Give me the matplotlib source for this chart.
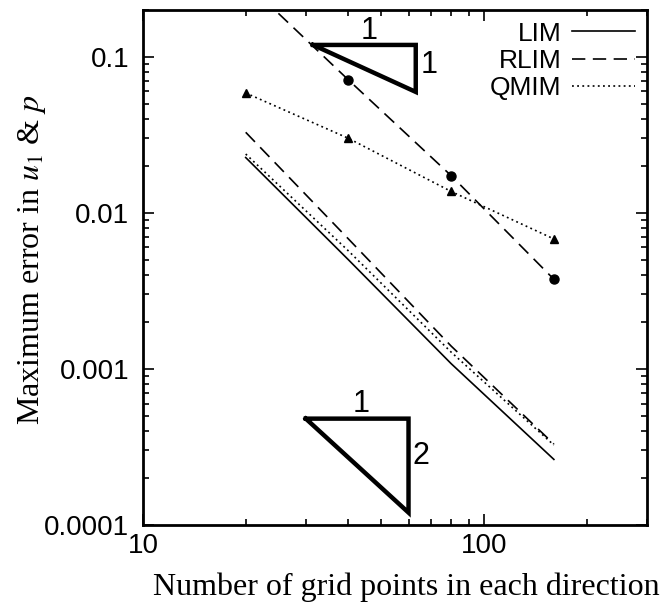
import matplotlib
matplotlib.use("Agg")
import matplotlib.pyplot as plt
from matplotlib.ticker import FixedLocator, FixedFormatter, LogLocator, NullFormatter

plt.rcParams["font.family"] = ["Liberation Sans", "DejaVu Sans"]
plt.rcParams["mathtext.fontset"] = "stix"

# grid sizes
n = [20, 40, 80, 160]

# smooth-solution errors (lower group)
lim_err = [0.0226, 0.0050, 0.00108, 0.000263]
rlim_err = [0.0328, 0.0068, 0.00140, 0.000330]
qmim_err = [0.0238, 0.0057, 0.00128, 0.000325]

# marked series (upper group)
rlim_mark = [0.30, 0.071, 0.0173, 0.00375]
qmim_mark = [0.0586, 0.030, 0.0137, 0.0068]

# slope triangles: x span and y levels
tri1_x = [31.5, 63]
tri1_y = [0.119, 0.0595]
tri2_x = [30, 60]
tri2_y = [4.8e-4, 1.2e-4]

fig = plt.figure(figsize=(6.65, 6.09), dpi=100)
ax = fig.add_axes([0.215, 0.138, 0.758, 0.846])
ax.set_xscale("log")
ax.set_yscale("log")
ax.set_xlim(10, 300)
ax.set_ylim(1e-4, 0.2)

k = dict(color="black", lw=1.2)
ax.plot(n, lim_err, "-", label="LIM", **k)
ax.plot(n, rlim_err, "--", dashes=(8, 4.5), label="RLIM", **k)
ax.plot(n, qmim_err, ":", dashes=(1.1, 2.0), label="QMIM", **k)

ax.plot(n, rlim_mark, "--", dashes=(8, 4.5), marker="o", ms=6.5, mfc="black", **k)
ax.plot(n, qmim_mark, ":", dashes=(1.1, 2.0), marker="^", ms=5.5, mfc="black", **k)

# slope triangles
for tx, ty, lab, up in [(tri1_x, tri1_y, "1", 1.05), (tri2_x, tri2_y, "2", 1.16)]:
    ax.plot([tx[0], tx[1], tx[1], tx[0]],
            [ty[0], ty[0], ty[1], ty[0]],
            color="black", lw=3.2, solid_joinstyle="miter")
    ax.text((tx[0] * tx[1]) ** 0.5 * 1.03, ty[0] * 0.99, "1",
            ha="center", va="bottom", fontsize=22)
    ax.text(tx[1] * 1.03, (ty[0] * ty[1]) ** 0.5 * up, lab,
            ha="left", va="center", fontsize=22)

# ticks
ax.xaxis.set_major_locator(FixedLocator([10, 100]))
ax.xaxis.set_major_formatter(FixedFormatter(["10", "100"]))
ax.xaxis.set_minor_locator(LogLocator(base=10, subs=range(2, 10)))
ax.xaxis.set_minor_formatter(NullFormatter())
ax.yaxis.set_major_locator(FixedLocator([1e-4, 1e-3, 1e-2, 1e-1]))
ax.yaxis.set_major_formatter(FixedFormatter(["0.0001", "0.001", "0.01", "0.1"]))
ax.yaxis.set_minor_locator(LogLocator(base=10, subs=range(2, 10)))
ax.yaxis.set_minor_formatter(NullFormatter())
ax.tick_params(which="both", direction="in", top=True, right=True, width=1.2)
ax.tick_params(which="major", length=8, labelsize=20)
ax.tick_params(axis="y", which="major", pad=10)
ax.tick_params(axis="x", which="major", pad=6)
ax.tick_params(which="minor", length=4)
for s in ax.spines.values():
    s.set_linewidth(2)

ax.set_xlabel("Number of grid points in each direction",
              family="Liberation Serif", fontsize=23)
ax.set_ylabel(r"Maximum error in $u_1$ & $p$",
              family="Liberation Serif", fontsize=23)
ax.xaxis.set_label_coords(0.522, -0.092)
ax.yaxis.set_label_coords(-0.188, 0.515)

leg = ax.legend(loc="upper right", frameon=False, markerfirst=False,
                fontsize=19, handlelength=2.4, handletextpad=0.4,
                labelspacing=0.12, borderaxespad=0.05)

fig.savefig("out.png", dpi=100)
